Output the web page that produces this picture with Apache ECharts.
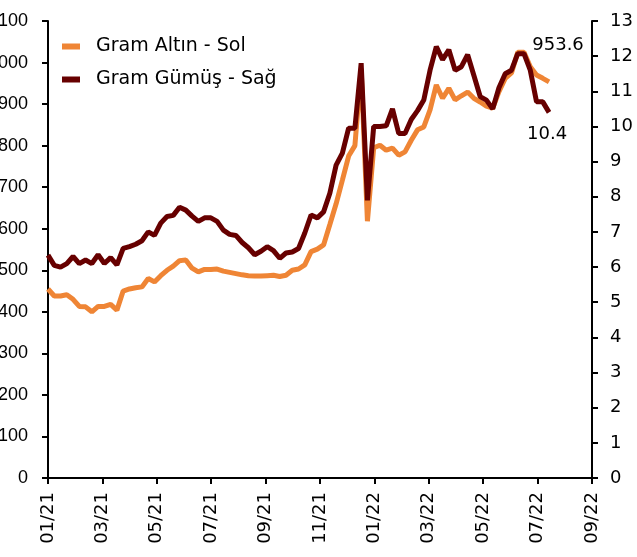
<!DOCTYPE html>
<html>
<head>
<meta charset="utf-8">
<script src="https://cdn.jsdelivr.net/npm/echarts@6/dist/echarts.min.js"></script>
<style>
  html, body { margin: 0; padding: 0; background: #fff; }
  #chart { width: 637px; height: 557px; }
</style>
</head>
<body>
<div id="chart"></div>
<script>
// haftalik veriler, 01.01.2021'den itibaren
var startDate = '2021-01-01';
var axisEnd = '2022-09-01';

var gramAltin = [
    455, 438, 438, 441, 430, 413, 412, 400, 413, 413,
    418, 404, 450, 455, 458, 460, 480, 472, 487, 500,
    510, 523, 525, 505, 496, 502, 502, 503, 498, 495,
    492, 489, 487, 486, 486, 487, 488, 485, 488, 500,
    503, 513, 545, 551, 561, 610, 660, 717, 775, 800,
    985, 618, 795, 801, 789, 794, 777, 785, 813, 838,
    845, 886, 946, 914, 938, 910, 920, 929, 914, 905,
    895, 890, 930, 962, 975, 1025, 1025, 990, 970, 962,
    953.6
];

var gramGumus = [
    6.34, 6.05, 6.0, 6.1, 6.3, 6.1, 6.2, 6.1, 6.35, 6.1,
    6.27, 6.06, 6.53, 6.58, 6.65, 6.75, 7.0, 6.9, 7.25, 7.44,
    7.47, 7.7, 7.62, 7.45, 7.3, 7.4, 7.4, 7.3, 7.05, 6.93,
    6.9, 6.7, 6.55, 6.35, 6.45, 6.58, 6.47, 6.25, 6.4, 6.43,
    6.53, 6.97, 7.48, 7.4, 7.57, 8.1, 8.9, 9.24, 9.95, 9.95,
    11.8, 7.9, 10.0, 10.0, 10.02, 10.5, 9.8, 9.8, 10.2, 10.45,
    10.75, 11.6, 12.27, 11.9, 12.18, 11.6, 11.7, 12.04, 11.45, 10.85,
    10.75, 10.5, 11.1, 11.5, 11.6, 12.07, 12.07, 11.6, 10.7, 10.7,
    10.4
];

var names = ['Gram Altın - Sol', 'Gram Gümüş - Sağ'];
var colors = ['#ef8535', '#670000'];

var DAY = 86400000;
var t0 = Date.parse(startDate);
var totalDays = Math.round((Date.parse(axisEnd) - t0) / DAY);   // 608

// x ekseni: baslangictan itibaren gun sayisi
function dayOf(i) {
    return i * 7;
}

function buildData(values, lastLabel) {
    return values.map(function(v, i) {
        var item = { value: [dayOf(i), v] };
        if (i === values.length - 1) {
            item.label = lastLabel;
        }
        return item;
    });
}

function fmtDate(v) {
    var d = new Date(t0 + (v + 15) * DAY);
    var m = d.getUTCMonth() + 1;
    var y = d.getUTCFullYear() % 100;
    return (m < 10 ? '0' + m : m) + '/' + (y < 10 ? '0' + y : y);
}

function endLabel(pos, offset) {
    return {
        show: true,
        position: pos,
        offset: offset,
        fontSize: 18,
        color: '#000',
        fontFamily: 'DejaVu Sans',
        formatter: function(p) { return p.value[1].toFixed(1); }
    };
}

function initChart() {
    var myChart = echarts.init(document.getElementById('chart'));

    var axisLine = { show: true, lineStyle: { color: '#000', width: 2 } };
    var axisTick = { show: true, inside: false, length: 6, lineStyle: { color: '#000', width: 2 } };

    var option = {
        animation: false,
        backgroundColor: '#fff',
        grid: {
            left: 48,
            right: 45,
            top: 21,
            bottom: 79,
            containLabel: false,
            outerBoundsMode: 'none'
        },
        legend: {
            orient: 'vertical',
            left: 57,
            top: 32,
            icon: 'rect',
            itemWidth: 18,
            itemHeight: 6,
            itemGap: 14,
            textStyle: {
                fontSize: 19,
                color: '#000',
                fontFamily: 'DejaVu Sans',
                padding: [0, 0, 0, 11]
            },
            data: names
        },
        xAxis: {
            type: 'value',
            min: 0,
            max: totalDays,
            interval: totalDays / 10,
            splitLine: { show: false },
            axisLine: axisLine,
            axisTick: axisTick,
            axisLabel: {
                rotate: 90,
                margin: 14,
                fontSize: 18,
                color: '#000',
                fontFamily: 'DejaVu Sans',
                formatter: fmtDate
            }
        },
        yAxis: [
            {
                type: 'value',
                min: 0,
                max: 1100,
                interval: 100,
                splitLine: { show: false },
                axisLine: axisLine,
                axisTick: axisTick,
                axisLabel: {
                    margin: 20,
                    fontSize: 18,
                    color: '#000',
                    fontFamily: 'Liberation Sans',
                    formatter: function(v) { return String(v); }
                }
            },
            {
                type: 'value',
                min: 0,
                max: 13,
                interval: 1,
                splitLine: { show: false },
                axisLine: axisLine,
                axisTick: axisTick,
                axisLabel: {
                    margin: 18,
                    fontSize: 18,
                    color: '#000',
                    fontFamily: 'DejaVu Sans'
                }
            }
        ],
        series: [
            {
                name: names[0],
                type: 'line',
                yAxisIndex: 0,
                symbol: 'circle',
                symbolSize: 0,
                showAllSymbol: true,
                color: colors[0],
                lineStyle: { width: 5, color: colors[0] },
                data: buildData(gramAltin, endLabel('top', [9, -22]))
            },
            {
                name: names[1],
                type: 'line',
                yAxisIndex: 1,
                symbol: 'circle',
                symbolSize: 0,
                showAllSymbol: true,
                color: colors[1],
                lineStyle: { width: 5, color: colors[1] },
                data: buildData(gramGumus, endLabel('bottom', [-2, 8]))
            }
        ]
    };

    myChart.setOption(option);
}

initChart();
</script>
</body>
</html>
